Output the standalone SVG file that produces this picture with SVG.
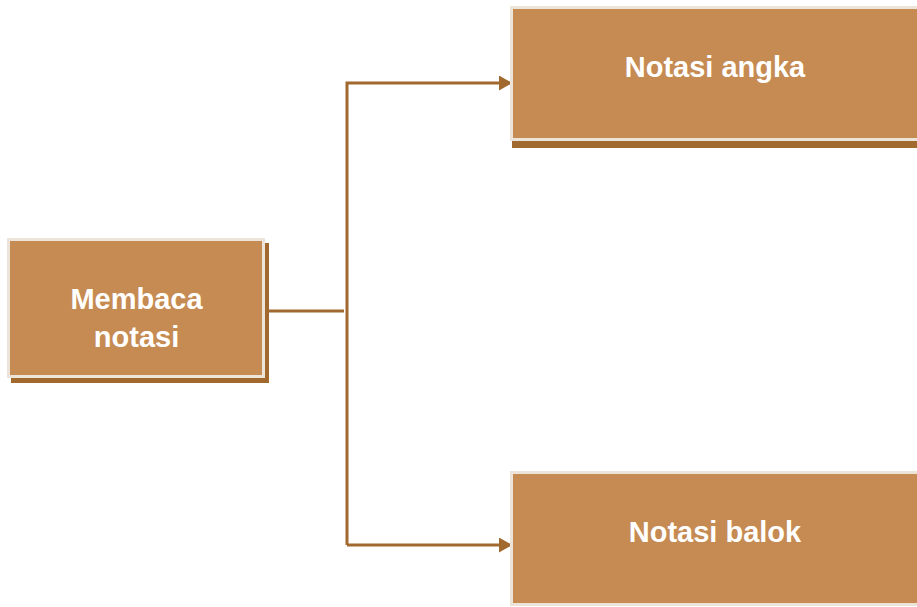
<svg xmlns="http://www.w3.org/2000/svg" width="917" height="607" viewBox="0 0 917 607">
<defs>
<style>
.box{fill:#C68B52;stroke:#EDE4D9;stroke-width:3}
.shadow{fill:#A2692F}
.lbl{font-family:"Liberation Sans",Arial,sans-serif;font-weight:bold;font-size:29px;fill:#FFFFFF;text-anchor:middle}
.conn{fill:none;stroke:#A2692F;stroke-width:3}
</style>
<marker id="arr" viewBox="0 0 13 15" refX="13" refY="7.5" markerWidth="13" markerHeight="15" markerUnits="userSpaceOnUse" orient="auto">
<path d="M0,0 L13,7.5 L0,15 Z" fill="#A2692F"/>
</marker>
</defs>
<rect width="917" height="607" fill="#FFFFFF"/>
<g id="connectors">
<path class="conn" d="M264,311 H344"/>
<path class="conn" d="M347,545 V83 H512" marker-end="url(#arr)"/>
<path class="conn" d="M347,545 H512" marker-end="url(#arr)"/>
</g>
<g id="membaca-notasi">
<rect class="shadow" x="11" y="243" width="258" height="140"/>
<rect class="box" x="8.5" y="239.5" width="255" height="137"/>
<text class="lbl" x="136.5" y="309">Membaca</text>
<text class="lbl" x="136.5" y="347">notasi</text>
</g>
<g id="notasi-angka">
<rect class="shadow" x="512" y="10" width="410" height="138"/>
<rect class="box" x="511.5" y="7.5" width="410" height="132"/>
<text class="lbl" x="715" y="77">Notasi angka</text>
</g>
<g id="notasi-balok">
<rect class="box" x="511.5" y="472.5" width="410" height="132"/>
<text class="lbl" x="715" y="542">Notasi balok</text>
</g>
</svg>
